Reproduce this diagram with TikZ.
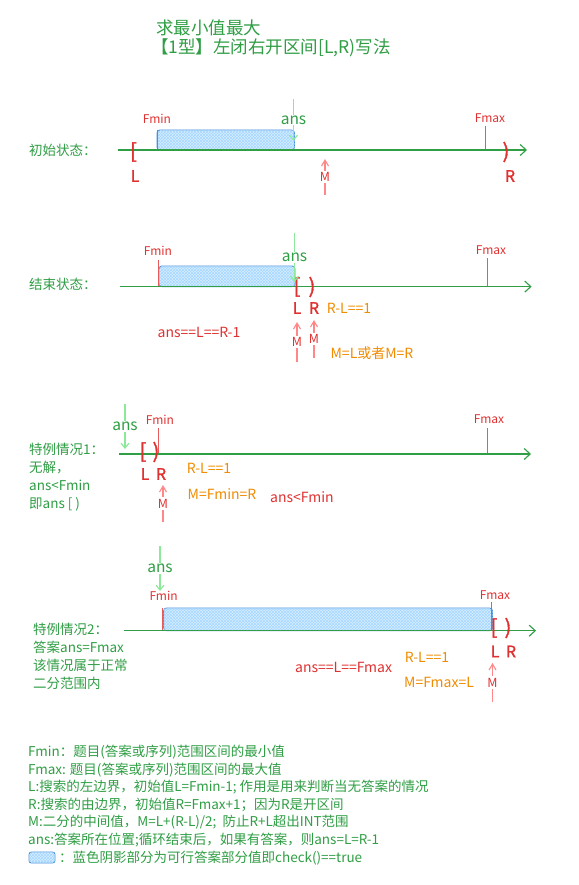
\documentclass[tikz,border=0pt]{standalone}
\usepackage{fontspec}
\newfontfamily\cjk{Noto Sans CJK SC}
\newfontfamily\cjkheavy[FakeBold=1.5]{Noto Sans CJK SC}
\usetikzlibrary{arrows.meta,patterns}
\definecolor{dgreen}{HTML}{2F9E44}
\definecolor{lgreen}{HTML}{8CE99A}
\definecolor{dred}{HTML}{E03131}
\definecolor{lred}{HTML}{FF8787}
\definecolor{dorange}{HTML}{F08C00}
\definecolor{dblue}{HTML}{4A8FD6}
\definecolor{lblue}{HTML}{A5D8FF}

\begin{document}
\begin{tikzpicture}[x=1pt, y=-1pt,
        every node/.style={inner sep=1pt},
        title/.style={font=\cjk\fontsize{17.5}{20}\selectfont, text=dgreen, anchor=west},
        rowlab/.style={font=\cjk\fontsize{13.5}{18}\selectfont, text=dgreen, anchor=west, align=left},
        legend/.style={font=\cjk\fontsize{13.5}{17.6}\selectfont, text=dgreen, anchor=west, align=left},
        bound/.style={font=\cjk\fontsize{12}{14}\selectfont, text=dred},
        brk/.style={font=\cjkheavy\fontsize{20}{22}\selectfont, text=dred},
        lr/.style={font=\cjkheavy\fontsize{16}{18}\selectfont, text=dred},
        anslab/.style={font=\cjk\fontsize{15.5}{18}\selectfont, text=dgreen, fill=white},
        mlab/.style={font=\cjk\fontsize{12.5}{13}\selectfont, text=dred, fill=white, inner sep=1.5pt},
        note/.style={font=\cjk\fontsize{14}{16}\selectfont, text=dorange},
        rnote/.style={font=\cjk\fontsize{14}{16}\selectfont, text=dred},
        axis/.style={dgreen, line width=1.1pt, -{Straight Barb[length=6pt,width=11pt,line width=1.1pt]}},
        ansarr/.style={lgreen, line width=1.1pt, -{Straight Barb[length=5pt,width=8pt]}},
        marr/.style={lred, line width=1.1pt, -{Straight Barb[length=6pt,width=7pt]}},
        tick/.style={dred!80, line width=0.8pt},
        okbox/.style={draw=dblue, line width=0.9pt, rounded corners=3pt, fill=lblue!45,
                postaction={pattern=crosshatch, pattern color=lblue}}
    ]
    \fill[white] (0,0) rectangle (578,885);
    \useasboundingbox (0,0) rectangle (578,885);

    % title
    \node[title] (t1) at (155,28) {求最小值最大};
    \node[title] (t2) at (150,48) {【1型】左闭右开区间[L,R)写法};

    % initial state
    \node[rowlab] (lab1) at (28,150) {初始状态：};
    \draw[okbox] (157,130) rectangle (294.5,150);
    \coordinate (a1s) at (118,150);
    \coordinate (a1e) at (527,150);
    \node[bound] (fmin1) at (157,118.5) {Fmin};
    \node[bound] (fmax1) at (490,118) {Fmax};
    \draw[tick] (157,130) -- (157,150);
    \draw[tick] (485.5,126) -- (485.5,150);
    \draw[axis] (a1s) -- (a1e);
    \node[brk] (lb1) at (133.5,152) {[};
    \node[brk] (rb1) at (506,152) {)};
    \node[lr] (l1) at (135,176) {L};
    \node[lr] (r1) at (510,176) {R};
    \coordinate (ans1t) at (293.5,99);
    \coordinate (ans1b) at (293.5,141);
    \draw[ansarr] (ans1t) -- node[anslab] (ans1) {ans} (ans1b);
    \coordinate (m1b) at (325,195);
    \coordinate (m1t) at (325,159);
    \draw[marr] (m1b) -- node[mlab] (m1) {M} (m1t);

    % end state
    \node[rowlab] (lab2) at (28,284) {结束状态：};
    \draw[okbox] (159,266) rectangle (295,286.6);
    \coordinate (a2s) at (120,286.6);
    \coordinate (a2e) at (531.6,286.6);
    \node[bound] (fmin2) at (158,251) {Fmin};
    \node[bound] (fmax2) at (491,250) {Fmax};
    \draw[tick] (158.5,260) -- (158.5,286.6);
    \draw[tick] (487,258) -- (487,286.6);
    \draw[axis] (a2s) -- (a2e);
    \node[brk] (lb2) at (297,287) {[};
    \node[brk] (rb2) at (312,287) {)};
    \node[lr] (l2) at (297,308) {L};
    \node[lr] (r2) at (314,308) {R};
    \coordinate (ans2t) at (294.5,233);
    \coordinate (ans2b) at (294.5,282);
    \draw[ansarr] (ans2t) -- node[anslab] (ans2) {ans} (ans2b);
    \coordinate (m2lb) at (297,362);
    \coordinate (m2lt) at (297,322);
    \draw[marr] (m2lb) -- node[mlab] (m2l) {M} (m2lt);
    \coordinate (m2rb) at (314,358);
    \coordinate (m2rt) at (314,320);
    \draw[marr] (m2rb) -- node[mlab] (m2r) {M} (m2rt);
    \node[note] (n2a) at (349,308) {R-L==1};
    \node[rnote] (n2b) at (199,332) {ans==L==R-1};
    \node[note] (n2c) at (372,353) {M=L或者M=R};

    % special case 1
    \node[rowlab] (lab3) at (28,477) {特例情况1：\\无解，\\ans<Fmin\\即ans [ )};
    \coordinate (a3s) at (119,454);
    \coordinate (a3e) at (531,454);
    \node[bound] (fmin3) at (160,420) {Fmin};
    \node[bound] (fmax3) at (489,419) {Fmax};
    \draw[tick] (158,428) -- (158,454);
    \draw[tick] (487,428) -- (487,454);
    \draw[axis] (a3s) -- (a3e);
    \node[brk] (lb3) at (143,452) {[};
    \node[brk] (rb3) at (156,452) {)};
    \node[lr] (l3) at (145,474) {L};
    \node[lr] (r3) at (161,474) {R};
    \coordinate (ans3t) at (125,404);
    \coordinate (ans3b) at (125,449);
    \draw[ansarr] (ans3t) -- node[anslab] (ans3) {ans} (ans3b);
    \coordinate (m3b) at (163,522);
    \coordinate (m3t) at (163,485);
    \draw[marr] (m3b) -- node[mlab] (m3) {M} (m3t);
    \node[note] (n3a) at (209,468) {R-L==1};
    \node[note] (n3b) at (222,494) {M=Fmin=R};
    \node[rnote] (n3c) at (302,497) {ans<Fmin};

    % special case 2
    \node[rowlab] (lab4) at (32,656) {特例情况2：\\答案ans=Fmax\\该情况属于正常\\二分范围内};
    \draw[okbox] (163.6,608) rectangle (492.5,630.7);
    \coordinate (a4s) at (124,630.7);
    \coordinate (a4e) at (536,630.7);
    \node[bound] (fmin4) at (163.6,596) {Fmin};
    \node[bound] (fmax4) at (495,595) {Fmax};
    \draw[tick] (162.6,607.5) -- (162.6,630.7);
    \draw[tick] (491.5,602) -- (491.5,630.7);
    \draw[axis] (a4s) -- (a4e);
    \node[brk] (lb4) at (494,628) {[};
    \node[brk] (rb4) at (508,628) {)};
    \node[lr] (l4) at (495,651.5) {L};
    \node[lr] (r4) at (511,651.5) {R};
    \coordinate (ans4t) at (160,546);
    \coordinate (ans4b) at (160,591);
    \draw[ansarr] (ans4t) -- node[anslab] (ans4) {ans} (ans4b);
    \coordinate (m4b) at (492.5,702);
    \coordinate (m4t) at (492.5,663);
    \draw[marr] (m4b) -- node[mlab] (m4) {M} (m4t);
    \node[note] (n4a) at (427,657.7) {R-L==1};
    \node[note] (n4b) at (439,682) {M=Fmax=L};
    \node[rnote] (n4c) at (343.6,667) {ans==L==Fmax};

    % legend
    \node[legend] (leg) at (27,796) {Fmin：题目(答案或序列)范围区间的最小值\\
        Fmax: 题目(答案或序列)范围区间的最大值\\
        L:搜索的左边界，初始值L=Fmin-1; 作用是用来判断当无答案的情况\\
        R:搜索的由边界，初始值R=Fmax+1；因为R是开区间\\
        M:二分的中间值，M=L+(R-L)/2;\ \ 防止R+L超出INT范围\\
        ans:答案所在位置;循环结束后，如果有答案，则ans=L=R-1};
    \draw[okbox, rounded corners=2.5pt] (29,852) rectangle (55,863);
    \node[legend] (legbox) at (58,858) {：蓝色阴影部分为可行答案部分值即check()==true};
\end{tikzpicture}
\end{document}
